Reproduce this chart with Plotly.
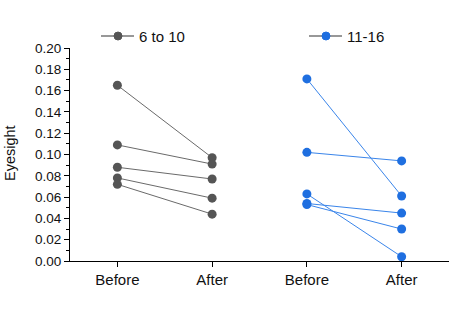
import plotly.graph_objects as go

categories = ["Before", "After", "Before", "After"]
groups = ["6 to 10", "11-16"]
young_before = [0.165, 0.109, 0.088, 0.078, 0.072]
young_after = [0.097, 0.091, 0.077, 0.059, 0.044]
older_before = [0.171, 0.102, 0.063, 0.054, 0.053]
older_after = [0.061, 0.094, 0.004, 0.045, 0.030]
y_ticks = [0.00, 0.02, 0.04, 0.06, 0.08, 0.10, 0.12, 0.14, 0.16, 0.18, 0.20]
y_title = "Eyesight"

gray = "#555555"
gray_line = "#6a6a6a"
blue = "#1f6fe0"
blue_line = "#3a85ea"

fig = go.Figure()
series = [(young_before, young_after, 0, gray, gray_line),
          (older_before, older_after, 2, blue, blue_line)]
for b, a, x0, mc, lc in series:
    for yb, ya in zip(b, a):
        fig.add_trace(go.Scatter(x=[x0, x0 + 1], y=[yb, ya], mode="lines",
                                 line=dict(color=lc, width=1), showlegend=False,
                                 hoverinfo="skip"))
for b, a, x0, mc, lc in series:
    fig.add_trace(go.Scatter(x=[x0] * len(b) + [x0 + 1] * len(a), y=b + a,
                             mode="markers", marker=dict(color=mc, size=9),
                             showlegend=False, cliponaxis=False))

# manual legend
W, H = 379.0, 213.0
def px(x):
    return (x - 70) / W
def py(y):
    return (261 - y) / H
for name, cx, col, lcol in [(groups[0], 118, gray, "#333333"), (groups[1], 326, blue, "#333333")]:
    fig.add_shape(type="line", xref="paper", yref="paper", x0=px(cx - 17), x1=px(cx + 16),
                  y0=py(36), y1=py(36), line=dict(color=lcol, width=1.2))
    fig.add_shape(type="circle", xref="paper", yref="paper", x0=px(cx - 4), x1=px(cx + 4),
                  y0=py(40), y1=py(32), fillcolor=col, line=dict(color=col, width=1))
    fig.add_annotation(xref="paper", yref="paper", x=px(cx + 19), y=py(36), text=name,
                       showarrow=False, xanchor="left", yanchor="middle",
                       font=dict(size=15, color="#111111"))

fig.add_annotation(xref="paper", yref="paper", x=px(10), y=py(153), text=y_title,
                   textangle=-90, showarrow=False, xanchor="center", yanchor="middle",
                   font=dict(size=14.5, color="#111111"))

fig.update_layout(
    width=461, height=322,
    margin=dict(l=70, r=12, t=48, b=61, autoexpand=False),
    plot_bgcolor="white", paper_bgcolor="white",
    font=dict(family="Liberation Sans, Arial, sans-serif", size=13, color="#111111"),
    xaxis=dict(range=[-0.5, 3.5], tickvals=[0, 1, 2, 3], ticktext=categories,
               showgrid=False, zeroline=False, showline=True, linecolor="black",
               linewidth=1, ticks="outside", ticklen=5, tickcolor="black",
               tickfont=dict(size=15), automargin=False),
    yaxis=dict(range=[0, 0.2], tickvals=y_ticks, tickformat=".2f",
               showgrid=False, zeroline=False, showline=True, linecolor="black",
               linewidth=1, ticks="outside", ticklen=5, tickcolor="black",
               tickfont=dict(size=13.5), automargin=False,
               minor=dict(dtick=0.01, tick0=0, ticks="outside", ticklen=3, tickcolor="black")),
)

fig.write_html("out.html")
